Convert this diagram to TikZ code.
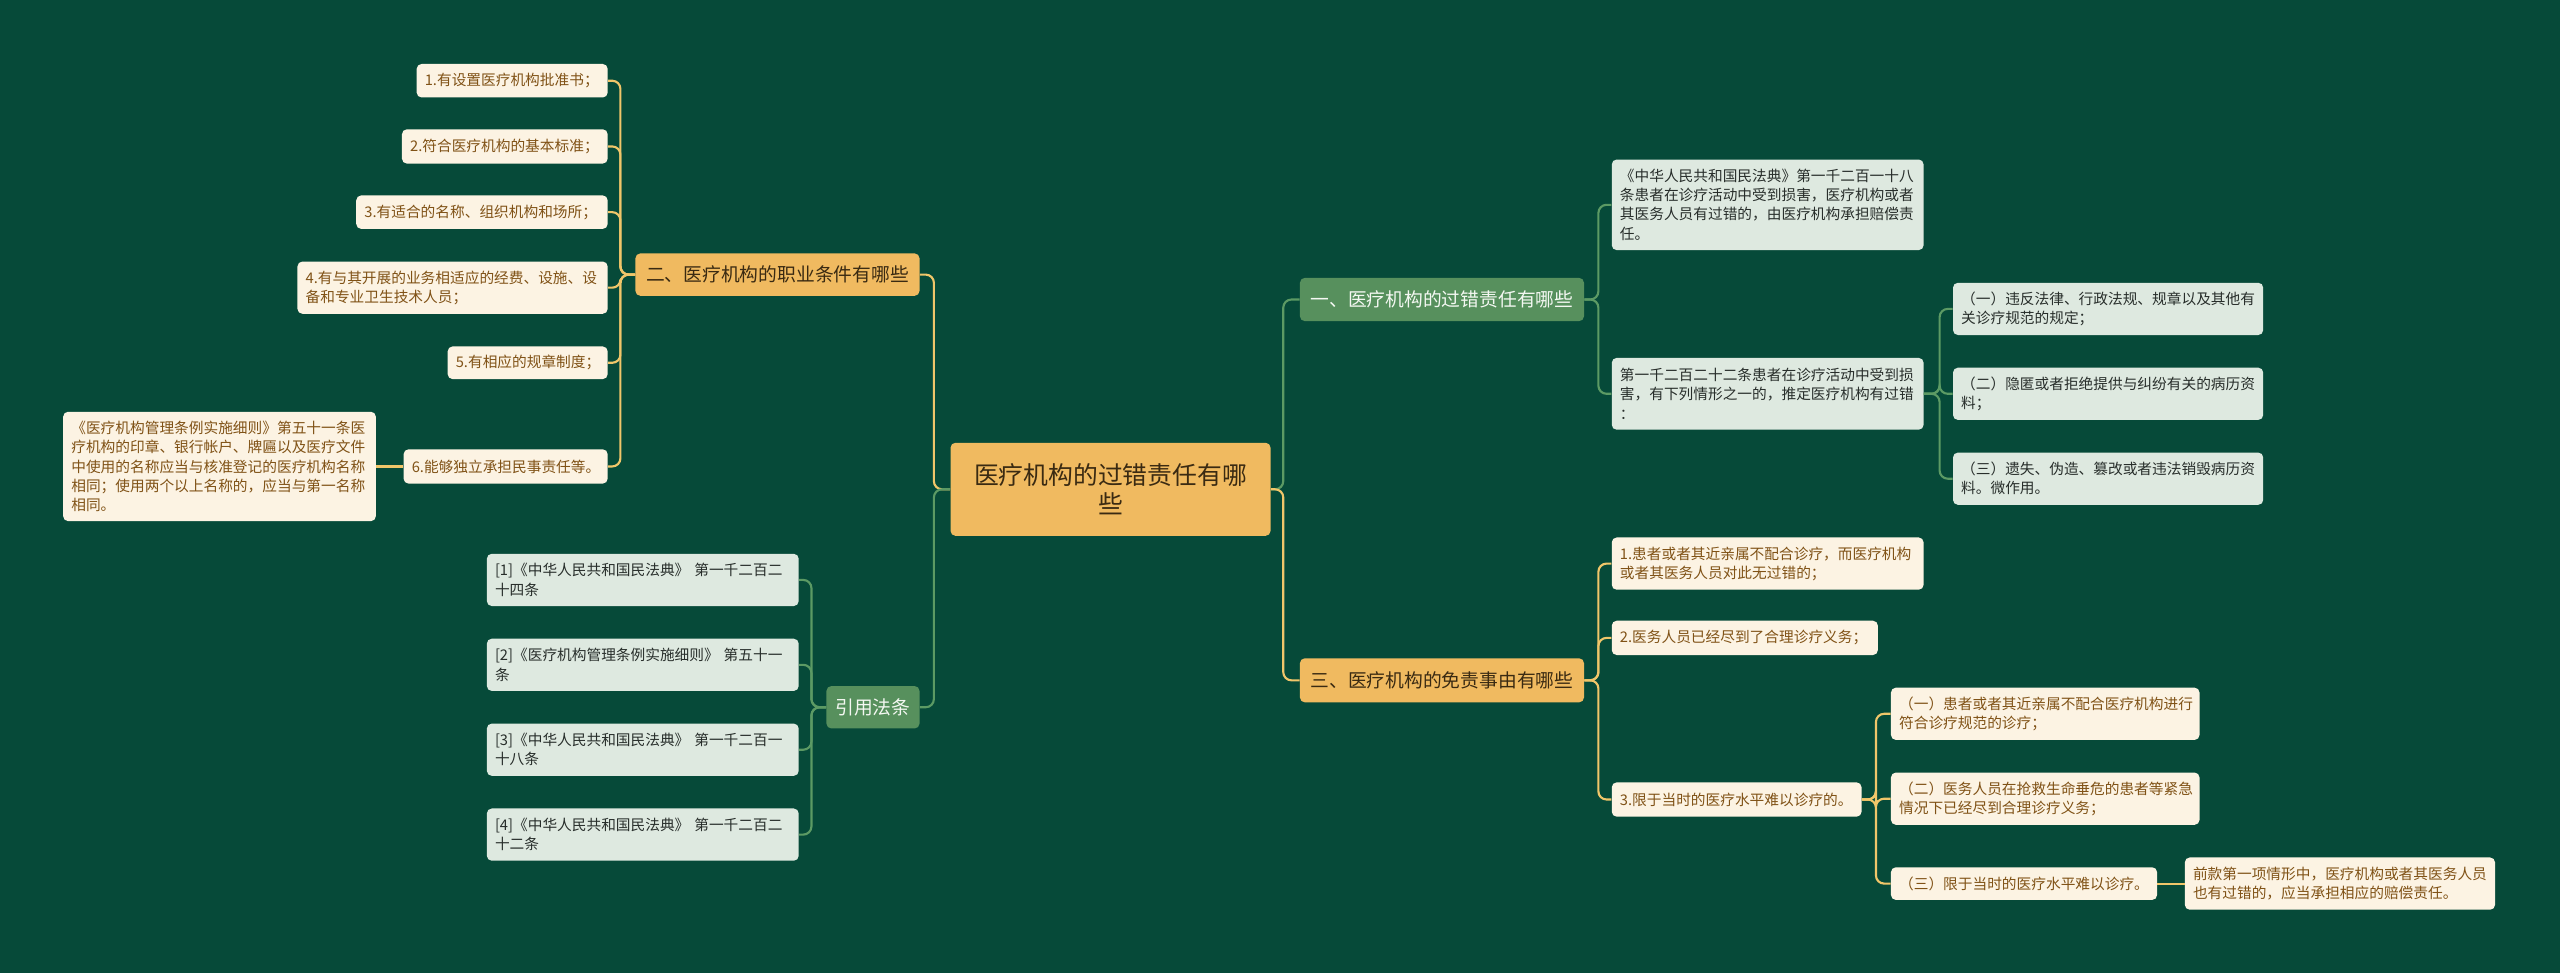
\documentclass[tikz,border=0pt]{standalone}
\usepackage{fontspec}
\setmainfont{Noto Sans CJK SC}
\definecolor{bgc}{RGB}{6,74,57}
\definecolor{orangef}{RGB}{240,186,96}
\definecolor{greenf}{RGB}{87,144,93}
\definecolor{creamf}{RGB}{252,243,227}
\definecolor{greyf}{RGB}{222,233,224}
\definecolor{darktxt}{RGB}{58,42,18}
\definecolor{browntxt}{RGB}{128,82,22}
\definecolor{greytxt}{RGB}{40,46,43}
\definecolor{whitetxt}{RGB}{244,248,242}
\definecolor{olinec}{RGB}{240,198,106}
\definecolor{glinec}{RGB}{92,154,100}
\tikzset{
  boxbase/.style={rounded corners=3pt, inner xsep=5pt, inner ysep=0pt, anchor=north west},
  centerbox/.style={boxbase, fill=orangef, text=darktxt, align=center, font=\fontsize{15.2}{17.5}\selectfont},
  obranch/.style={boxbase, fill=orangef, text=darktxt, align=center, font=\fontsize{11.5}{13}\selectfont},
  gbranch/.style={boxbase, fill=greenf, text=whitetxt, align=center, font=\fontsize{11.5}{13}\selectfont},
  cleaf/.style={boxbase, fill=creamf, text=browntxt, align=left, font=\fontsize{9}{11.7}\selectfont},
  gleaf/.style={boxbase, fill=greyf, text=greytxt, align=left, font=\fontsize{9}{11.7}\selectfont},
  oline/.style={draw=olinec, line width=1.3pt, rounded corners=5pt},
  gline/.style={draw=glinec, line width=1.3pt, rounded corners=5pt}
}
\newcommand\mybox[7]{%
  \pgfmathsetmacro\mybw{#5-#3}%
  \pgfmathsetmacro\mybh{#6-#4}%
  \pgfmathsetmacro\mytw{#5-#3-10}%
  \node[#2, minimum width=\mybw pt, minimum height=\mybh pt, text width=\mytw pt] (#1) at (#3,#4) {#7};}
\begin{document}
\begin{tikzpicture}[x=1pt,y=-1pt]
\fill[bgc] (0,0) rectangle (1568,596);
\useasboundingbox (0,0) rectangle (1568,596);

% trunk coordinates
\coordinate (tCL) at (572,0);
\coordinate (tCR) at (786,0);
\coordinate (tB2) at (380,0);
\coordinate (tCit) at (497,0);
\coordinate (tB1) at (979,0);
\coordinate (tB3) at (979,0);
\coordinate (tR2) at (1188,0);
\coordinate (tR3c) at (1149,0);

% centre
\mybox{c}{centerbox}{582}{271}{778}{328}{医疗机构的过错责任有哪\\些}

% branches
\mybox{b2}{obranch}{389}{155}{563}{181}{二、医疗机构的职业条件有哪些}
\mybox{cit}{gbranch}{506}{420}{563}{446}{引用法条}
\mybox{b1}{gbranch}{796}{170}{970}{196.5}{一、医疗机构的过错责任有哪些}
\mybox{b3}{obranch}{796}{403}{970}{430}{三、医疗机构的免责事由有哪些}

% left leaves
\mybox{L1}{cleaf}{255}{39}{372}{59.5}{1.有设置医疗机构批准书；}
\mybox{L2}{cleaf}{246}{79}{372}{100}{2.符合医疗机构的基本标准；}
\mybox{L3}{cleaf}{218}{119.5}{372}{140}{3.有适合的名称、组织机构和场所；}
\mybox{L4}{cleaf}{182}{160}{372}{192}{4.有与其开展的业务相适应的经费、设施、设\\备和专业卫生技术人员；}
\mybox{L5}{cleaf}{274}{212}{372}{232}{5.有相应的规章制度；}
\mybox{L6}{cleaf}{247}{275}{372}{296}{6.能够独立承担民事责任等。}
\mybox{Lg}{cleaf}{38.5}{252}{230}{319}{《医疗机构管理条例实施细则》第五十一条医\\疗机构的印章、银行帐户、牌匾以及医疗文件\\中使用的名称应当与核准登记的医疗机构名称\\相同；使用两个以上名称的，应当与第一名称\\相同。}

% citations
\mybox{C1}{gleaf}{298}{339}{489}{371}{[1]《中华人民共和国民法典》 第一千二百二\\十四条}
\mybox{C2}{gleaf}{298}{391}{489}{423}{[2]《医疗机构管理条例实施细则》 第五十一\\条}
\mybox{C3}{gleaf}{298}{443}{489}{475}{[3]《中华人民共和国民法典》 第一千二百一\\十八条}
\mybox{C4}{gleaf}{298}{495}{489}{527}{[4]《中华人民共和国民法典》 第一千二百二\\十二条}

% right: branch one
\mybox{R1}{gleaf}{987}{97.5}{1178}{153}{《中华人民共和国民法典》第一千二百一十八\\条患者在诊疗活动中受到损害，医疗机构或者\\其医务人员有过错的，由医疗机构承担赔偿责\\任。}
\mybox{R2}{gleaf}{987}{219}{1178}{263}{第一千二百二十二条患者在诊疗活动中受到损\\害，有下列情形之一的，推定医疗机构有过错\\：}
\mybox{Ra}{gleaf}{1196}{173}{1386}{205}{（一）违反法律、行政法规、规章以及其他有\\关诊疗规范的规定；}
\mybox{Rb}{gleaf}{1196}{225}{1386}{257}{（二）隐匿或者拒绝提供与纠纷有关的病历资\\料；}
\mybox{Rc}{gleaf}{1196}{277}{1386}{309}{（三）遗失、伪造、篡改或者违法销毁病历资\\料。微作用。}

% right: branch three
\mybox{T1}{cleaf}{987}{329}{1178}{361}{1.患者或者其近亲属不配合诊疗，而医疗机构\\或者其医务人员对此无过错的；}
\mybox{T2}{cleaf}{987}{380}{1150}{401}{2.医务人员已经尽到了合理诊疗义务；}
\mybox{T3}{cleaf}{987}{479}{1140}{500}{3.限于当时的医疗水平难以诊疗的。}
\mybox{S1}{cleaf}{1158}{421}{1347}{453}{（一）患者或者其近亲属不配合医疗机构进行\\符合诊疗规范的诊疗；}
\mybox{S2}{cleaf}{1158}{473}{1347}{505}{（二）医务人员在抢救生命垂危的患者等紧急\\情况下已经尽到合理诊疗义务；}
\mybox{S3}{cleaf}{1158}{531}{1321}{551}{（三）限于当时的医疗水平难以诊疗。}
\mybox{Q}{cleaf}{1338}{525}{1528}{557}{前款第一项情形中，医疗机构或者其医务人员\\也有过错的，应当承担相应的赔偿责任。}

% connectors
\draw[oline] (c.west) -- (c.west -| tCL) |- (b2.east);
\draw[gline] (c.west) -- (c.west -| tCL) |- (cit.east);
\draw[gline] (c.east) -- (c.east -| tCR) |- (b1.west);
\draw[oline] (c.east) -- (c.east -| tCR) |- (b3.west);

\foreach \n in {L1,L2,L3,L4,L5,L6}
  \draw[oline] (b2.west) -- (b2.west -| tB2) |- (\n.east);
\draw[oline] (L6.west) -- (Lg.east);

\foreach \n in {C1,C2,C3,C4}
  \draw[gline] (cit.west) -- (cit.west -| tCit) |- (\n.east);

\foreach \n in {R1,R2}
  \draw[gline] (b1.east) -- (b1.east -| tB1) |- (\n.west);
\foreach \n in {Ra,Rb,Rc}
  \draw[gline] (R2.east) -- (R2.east -| tR2) |- (\n.west);

\foreach \n in {T1,T2,T3}
  \draw[oline] (b3.east) -- (b3.east -| tB3) |- (\n.west);
\foreach \n in {S1,S2,S3}
  \draw[oline] (T3.east) -- (T3.east -| tR3c) |- (\n.west);
\draw[oline] (S3.east) -- (Q.west);
\end{tikzpicture}
\end{document}
